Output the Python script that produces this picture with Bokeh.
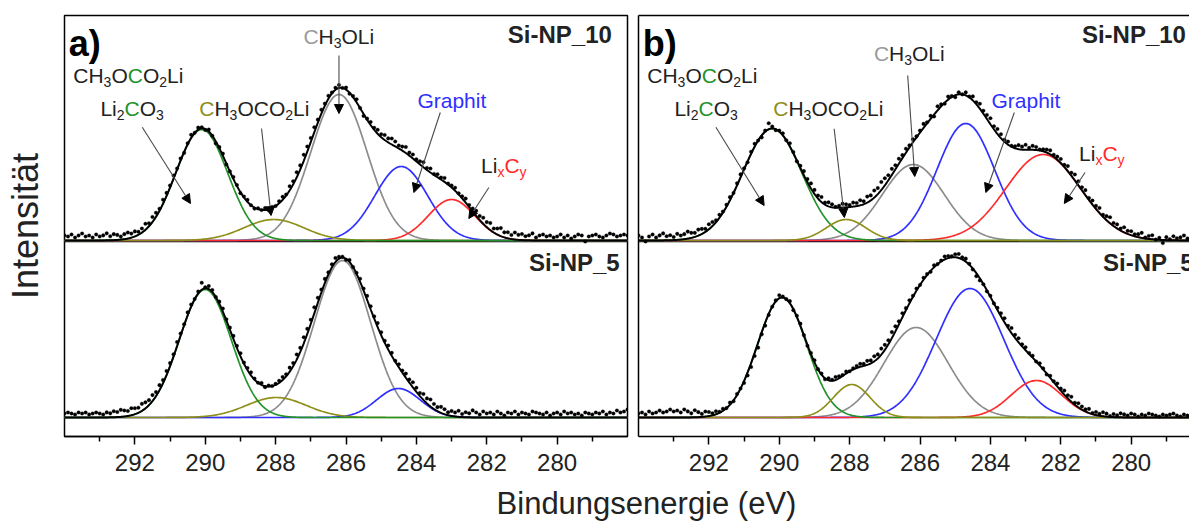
import numpy as np
from bokeh.plotting import figure
from bokeh.models import (Range1d, FixedTicker, LinearAxis, Span, Label,
                          Arrow, NormalHead)
from bokeh.layouts import row, column
from bokeh.embed import file_html
from bokeh.resources import INLINE

FONT = "Liberation Sans"
INK = "#222222"

# ---------------------------------------------------------------- data
# C 1s binding energies of the measured points (eV)
energy = [round(294.0 - 0.1 * i, 1) for i in range(161)]

x_ticks = [292, 290, 288, 286, 284, 282, 280]
x_minor = [293, 291, 289, 287, 285, 283, 281, 279]

species = ["Li2CO3", "CH3OCO2Li", "CH3OLi", "Graphit", "LixCy"]

# fitted components: centre (eV), height (a.u.), gaussian sigma (eV)
a10_center = [290.10, 288.05, 286.20, 284.43, 283.00]
a10_height = [111, 21, 146, 74, 41]
a10_sigma = [0.74, 0.85, 0.80, 0.75, 0.66]

a5_center = [290.00, 287.98, 286.10, 284.51]
a5_height = [128, 20, 157, 29]
a5_sigma = [0.74, 0.85, 0.80, 0.62]

b10_center = [290.20, 288.10, 286.19, 284.70, 282.50]
b10_height = [112, 21, 76, 117, 86]
b10_sigma = [0.84, 0.56, 0.88, 0.82, 1.06]

b5_center = [289.92, 287.94, 286.11, 284.58, 282.69]
b5_height = [120, 33, 90, 129, 37]
b5_sigma = [0.70, 0.52, 0.91, 0.96, 0.72]

# measured intensity minus fit envelope at each energy (a.u.)
a10_resid = [5, 4, 6, 3, 5, 7, 4, 5, 3, 6,
             4, 5, 7, 4, 6, 5, 3, 5, 6, 4,
             5, 3, 4, 6, 3, 5, 4, 2, 4, 3,
             2, 3, 1, 2, -1, 1, 3, 0, 2, 1,
             -1, 2, 0, -2, 1, 2, -1, 0, 2, 1,
             -1, 1, 2, 0, -1, 1, 0, 2, -1, 1,
             0, 2, 3, 1, 4, 3, 5, 4, 6, 5,
             4, 5, 3, 4, 2, 3, 1, 2, 3, 0,
             2, -1, 1, 3, 0, -2, 1, 3, 2, 4,
             3, 5, 4, 6, 5, 3, 4, 6, 3, 4,
             2, 3, 5, 2, 4, 1, 3, 2, 4, 1,
             2, 3, 1, 2, 4, 2, 3, 5, 4, 6,
             5, 7, 4, 6, 8, 5, 6, 4, 7, 5,
             6, 4, 5, 7, 3, 5, 6, 4, 5, 3,
             4, 6, 3, 5, 2, 4, 6, 5, -1, 4,
             5, 6, 4, 3, 5, 7, 6, 4, 5, 6, 5]

a5_resid = [4, 5, 4, 3, 5, 4, 5, 3, 4, 5,
            4, 3, 5, 4, 6, 5, 7, 6, 5, 7,
            6, 5, 7, 6, 5, 6, 4, 5, 3, 4,
            3, 2, 4, 2, 1, 3, 2, 0, 2, 7,
            1, 3, 2, 0, 2, 3, 1, 2, 3, 2,
            3, 1, 2, 3, 1, 0, 2, -1, 1, 0,
            1, 2, 3, 2, 4, 3, 5, 4, 6, 5,
            4, 6, 5, 3, 4, 2, 3, 4, 2, 1,
            -1, 2, 0, 1, 3, 2, 4, 3, 2, 4,
            3, 2, 4, 3, 1, 3, 2, 4, 3, 5,
            4, 3, 6, 5, 7, 5, 4, 6, 5, 3,
            5, 4, 6, 3, 5, 4, 7, 5, 3, 6,
            4, 5, 3, 6, 4, 2, 5, 4, 6, 3,
            5, 4, 3, 6, 5, 4, 3, 5, 2, 4,
            5, 3, 6, 4, 5, 3, 4, 2, 5, 4,
            3, 5, 4, 6, 3, 5, 4, 7, 5, 6, 8]

b10_resid = [5, 3, -1, 4, 6, 3, 5, 7, 4, 5,
             3, 6, 4, 5, 7, 5, 4, 6, 5, 3,
             5, 4, 2, 3, 1, 2, 3, 0, 2, 3,
             1, -1, 2, 3, 0, -2, 1, 6, 2, -1,
             1, 2, 0, 3, 1, -1, 2, 4, 3, 5,
             4, 3, 5, 2, 4, 3, 1, 2, 4, 3,
             2, 4, 3, 5, 3, 6, 5, 7, 6, 8,
             7, 5, 6, 4, 5, 3, 4, 2, 3, 1,
             2, 4, 1, 3, -2, 4, 2, -1, 3, 1,
             -2, 2, 0, 3, 1, 4, 2, 5, 3, 4,
             6, 3, 5, 4, 2, 3, 1, 2, 4, 3,
             5, 2, 4, 3, 1, 2, 3, 4, 2, 3,
             4, 2, 5, 3, 6, 4, 3, 5, 2, 4,
             3, 5, 2, 4, 6, 3, 4, 2, 5, 3,
             4, 2, 3, 5, 1, 3, 4, 0, 2, -3,
             3, 1, 4, 2, 3, 5, 2, 4, 3, 1, 2]

b5_resid = [4, 5, 3, 6, 4, 5, 7, 5, 6, 8,
            6, 7, 5, 8, 6, 4, 7, 5, 3, 5,
            4, 2, 3, 1, 2, 0, 2, -1, 1, 0,
            -2, -3, -4, -3, -5, -2, -3, -1, 0, 1,
            3, 1, 0, 2, -1, 1, 2, 0, -1, 1,
            2, 0, 1, -1, 2, 1, 3, 2, 1, 2,
            0, 1, 2, 3, 2, 4, 3, 5, 4, 6,
            5, 4, 6, 5, 3, 4, 2, 3, 1, 2,
            0, 2, 1, -1, 2, 0, 1, 3, 2, 1,
            3, 4, 2, 3, 1, -1, -3, -2, 0, -1,
            1, 0, 2, 3, 4, 2, 5, 3, 4, 2,
            3, 1, 2, 0, 2, 1, -1, 2, 1, 3,
            2, 4, 3, 5, 2, 4, 3, 2, 4, 1,
            3, 2, 4, 3, 1, 3, 2, 4, 3, 2,
            4, 3, 1, 3, 2, 4, 3, 2, 1, 3,
            2, 3, 4, 2, 1, 3, 2, 4, 3, 2, 1]

# ---------------------------------------------------------------- styling
COLORS = {"Li2CO3": "#23922a", "CH3OCO2Li": "#8e8e18", "CH3OLi": "#8c8c8c",
          "Graphit": "#2f2fff", "LixCy": "#ff2a2a"}
TOP_SHIFT = 177          # vertical offset of the upper spectrum
FRAME_H = 421

# Arial / Liberation Sans advance widths (1/1000 em)
ADV = {"C": 722, "H": 722, "O": 778, "L": 556, "i": 222, "G": 778, "r": 333,
       "a": 556, "p": 556, "h": 556, "t": 278, "x": 500, "y": 500}


def text_w(s, size):
    return sum(ADV.get(ch, 556) for ch in s) * size / 1000.0


def gauss(e, c, h, s):
    return h * np.exp(-0.5 * ((np.asarray(e) - c) / s) ** 2)


def rich_label(p, x, y, parts, size=21, sub=14, drop=6):
    off = 0.0
    for txt, color, is_sub in parts:
        fs = sub if is_sub else size
        p.add_layout(Label(x=x, y=y, x_offset=off, y_offset=-drop if is_sub else 0,
                           text=txt, text_color=color, text_font=FONT,
                           text_font_size=f"{fs}px", text_baseline="alphabetic"))
        off += text_w(txt, fs)


def draw_spectrum(p, centers, heights, sigmas, resid, shift, order):
    grid = np.linspace(294.0, 278.0, 801)
    comps = [gauss(grid, c, h, s) for c, h, s in zip(centers, heights, sigmas)]
    for k in order:
        if k < len(comps):
            p.line(grid, comps[k] + shift, line_color=COLORS[species[k]], line_width=1.7)
    env = np.sum(comps, axis=0)
    p.line(grid, env + shift, line_color="black", line_width=2.0)
    env_pts = sum(gauss(energy, c, h, s) for c, h, s in zip(centers, heights, sigmas))
    p.scatter(energy, env_pts + np.asarray(resid) + shift, marker="circle", size=3.6,
              fill_color="black", line_color="black", line_width=0.3)


def arrow(p, x0, y0, x1, y1):
    p.add_layout(Arrow(end=NormalHead(size=9, fill_color="black", line_color="black",
                                      line_width=1),
                       x_start=x0, y_start=y0, x_end=x1, y_end=y1,
                       line_color="#4a4a4a", line_width=1.1))


def make_panel(x_end, frame_w, border_left, border_right, letter):
    p = figure(frame_width=frame_w, frame_height=FRAME_H,
               x_range=Range1d(294.0, x_end), y_range=Range1d(-19, 402),
               output_backend="svg", toolbar_location=None,
               min_border_left=border_left, min_border_right=border_right,
               min_border_top=15, min_border_bottom=46,
               y_axis_location=None, background_fill_color="white",
               border_fill_color="white")
    p.grid.visible = False
    ax = p.xaxis[0]
    ax.ticker = FixedTicker(ticks=x_ticks, minor_ticks=x_minor)
    ax.axis_line_width = 1.5
    ax.major_tick_line_width = 1.5
    ax.minor_tick_line_width = 1.5
    ax.major_tick_out = 8
    ax.major_tick_in = 0
    ax.minor_tick_out = 5
    ax.minor_tick_in = 0
    ax.major_label_text_font = FONT
    ax.major_label_text_font_size = "24px"
    ax.major_label_text_color = INK
    ax.major_label_standoff = 9

    p.add_layout(Span(location=TOP_SHIFT - 1, dimension="width", line_color="black",
                      line_width=1.5, level="underlay"))

    p.add_layout(Label(x=293.88, y=374, text=letter, text_font=FONT,
                       text_font_size="36px", text_font_style="bold",
                       text_color="black", text_baseline="alphabetic"))
    p.add_layout(Label(x=281.40, y=383, text="Si-NP_10", text_font=FONT,
                       text_font_size="24px", text_font_style="bold",
                       text_color=INK, text_baseline="alphabetic"))
    p.add_layout(Label(x=280.80, y=155, text="Si-NP_5", text_font=FONT,
                       text_font_size="24px", text_font_style="bold",
                       text_color=INK, text_baseline="alphabetic"))
    return p


def species_labels(p, gray_xy, lixcy_xy):
    rich_label(p, 293.75, 342, [("CH", INK, False), ("3", INK, True), ("O", INK, False),
                                ("C", COLORS["Li2CO3"], False), ("O", INK, False),
                                ("2", INK, True), ("Li", INK, False)])
    rich_label(p, 292.98, 309, [("Li", INK, False), ("2", INK, True),
                                ("C", COLORS["Li2CO3"], False), ("O", INK, False),
                                ("3", INK, True)])
    rich_label(p, 290.17, 309, [("C", COLORS["CH3OCO2Li"], False), ("H", INK, False),
                                ("3", INK, True), ("OCO", INK, False), ("2", INK, True),
                                ("Li", INK, False)])
    rich_label(p, gray_xy[0], gray_xy[1], [("C", "#9a9a9a", False), ("H", INK, False),
                                           ("3", INK, True), ("OLi", INK, False)])
    rich_label(p, 283.97, 317, [("Graphit", COLORS["Graphit"], False)])
    rich_label(p, lixcy_xy[0], lixcy_xy[1], [("Li", INK, False), ("x", COLORS["LixCy"], True),
                                             ("C", COLORS["LixCy"], False),
                                             ("y", COLORS["LixCy"], True)])


# ---------------------------------------------------------------- panel a
pa = make_panel(278.0, 563, 64, 4, "a)")
pa.outline_line_color = "black"
pa.outline_line_width = 1.5
ya = LinearAxis(ticker=FixedTicker(ticks=[]), axis_label="Intensität",
                axis_line_color=None, major_tick_out=0, minor_tick_out=0,
                major_label_text_font_size="0px", major_label_standoff=0,
                axis_label_standoff=19, axis_label_text_font=FONT,
                axis_label_text_font_size="36px", axis_label_text_font_style="normal",
                axis_label_text_color=INK)
pa.add_layout(ya, "left")

draw_spectrum(pa, a10_center, a10_height, a10_sigma, a10_resid, TOP_SHIFT, [2, 3, 4, 1, 0])
draw_spectrum(pa, a5_center, a5_height, a5_sigma, a5_resid, 0, [2, 3, 4, 1, 0])
species_labels(pa, (287.21, 381), (282.16, 252))
arrow(pa, 291.79, 290.3, 290.42, 214)
arrow(pa, 288.40, 289, 288.13, 202)
arrow(pa, 286.20, 362, 286.20, 304)
arrow(pa, 283.32, 305, 284.07, 225)
arrow(pa, 281.94, 230, 282.51, 199)

# ---------------------------------------------------------------- panel b
pb = make_panel(294.0 - 551 / 35.19, 551, 7, 0, "b)")
pb.outline_line_color = None
for side in ("left", "above"):
    pb.add_layout(LinearAxis(ticker=FixedTicker(ticks=[]), axis_line_width=1.5,
                             major_tick_out=0, minor_tick_out=0, major_tick_in=0,
                             minor_tick_in=0, major_label_text_font_size="0px",
                             major_label_standoff=0), side)

draw_spectrum(pb, b10_center, b10_height, b10_sigma, b10_resid, TOP_SHIFT, [2, 3, 4, 0, 1])
draw_spectrum(pb, b5_center, b5_height, b5_sigma, b5_resid, 0, [2, 3, 4, 0, 1])
species_labels(pb, (287.31, 364), (281.48, 264))
arrow(pb, 291.80, 290.3, 290.43, 212)
arrow(pb, 288.44, 288.7, 288.15, 200)
arrow(pb, 286.35, 342, 286.15, 241)
arrow(pb, 283.32, 305, 284.13, 225)
arrow(pb, 281.31, 245, 281.90, 214)

# ---------------------------------------------------------------- x title
pt = figure(width=1189, height=41, x_range=Range1d(0, 1189), y_range=Range1d(0, 41),
            output_backend="svg", toolbar_location=None, min_border=0,
            x_axis_location=None, y_axis_location=None, outline_line_color=None)
pt.grid.visible = False
pt.add_layout(Label(x=646, y=20, text="Bindungsenergie (eV)", text_align="center",
                    text_baseline="alphabetic", text_font=FONT, text_font_size="31px",
                    text_color=INK))

layout = column(row(pa, pb), pt)
open("out.html", "w").write(file_html(layout, INLINE))
